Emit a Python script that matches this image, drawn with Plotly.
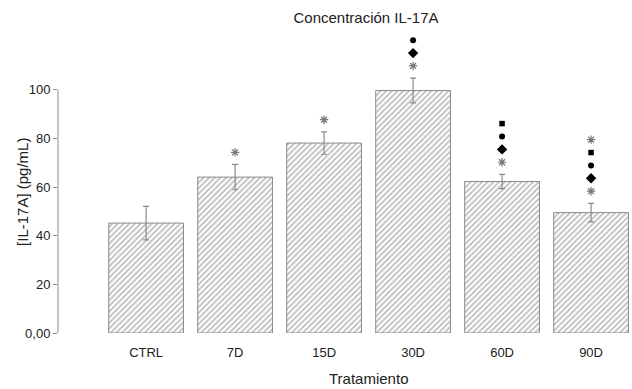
import plotly.graph_objects as go

categories = ["CTRL", "7D", "15D", "30D", "60D", "90D"]
means = [45.2, 64.1, 78.1, 99.7, 62.3, 49.5]
errors = [6.9, 5.2, 4.6, 5.1, 2.9, 3.8]
# significance marks, bottom to top
marks = [
    [],
    ["*"],
    ["*"],
    ["*", "diamond", "dot"],
    ["*", "diamond", "dot", "square"],
    ["*", "diamond", "dot", "square", "*"],
]
y_ticks = [0, 20, 40, 60, 80, 100]
y_tick_labels = ["0,00", "20", "40", "60", "80", "100"]

fig = go.Figure()
fig.add_trace(go.Bar(
    x=categories, y=means,
    width=0.84,
    marker=dict(color="white", line=dict(color="#8a8a8a", width=1),
                pattern=dict(shape="/", fgcolor="#7a7a7a", bgcolor="white", size=4, solidity=0.45)),
    error_y=dict(type="data", array=errors, color="#8a8a8a", thickness=1.2, width=3),
    showlegend=False,
))

style = {
    "*": dict(symbol="asterisk-open", size=7, color="#777", line=dict(color="#777", width=1.2)),
    "diamond": dict(symbol="diamond", size=8, color="black", line=dict(width=0)),
    "dot": dict(symbol="circle", size=6, color="black", line=dict(width=0)),
    "square": dict(symbol="square", size=5.5, color="black", line=dict(width=0)),
}
first_gap = 5.0
step = 5.3
for kind in style:
    xs, ys = [], []
    for c, m, e, mk in zip(categories, means, errors, marks):
        for i, k in enumerate(mk):
            if k == kind:
                xs.append(c)
                ys.append(m + e + first_gap + i * step)
    if xs:
        s = style[kind]
        fig.add_trace(go.Scatter(x=xs, y=ys, mode="markers", showlegend=False, hoverinfo="skip",
                                 marker=dict(symbol=s["symbol"], size=s["size"], color=s["color"], line=s["line"])))

# y axis line only spans the labelled range
fig.add_shape(type="line", xref="paper", yref="y", x0=0, x1=0, y0=0, y1=y_ticks[-1],
              line=dict(color="#8a8a8a", width=1))

fig.add_annotation(text="Tratamiento", xref="paper", yref="paper", x=0.5405, y=0, yshift=-45,
                   showarrow=False, font=dict(size=15, color="#222"), xanchor="center", yanchor="middle")
fig.add_annotation(text="[IL-17A] (pg/mL)", xref="paper", yref="paper", x=0, xshift=-35, y=0.464,
                   textangle=-90, showarrow=False, font=dict(size=15, color="#222"),
                   xanchor="center", yanchor="middle")

fig.update_layout(
    width=632, height=389,
    margin=dict(l=58, r=0, t=29, b=56),
    paper_bgcolor="white", plot_bgcolor="white",
    font=dict(family="Liberation Sans, Arial, sans-serif", color="#222", size=13),
    title=dict(text="Concentración IL-17A", x=366 / 632, xanchor="center", y=1 - 18 / 389, yanchor="middle",
               font=dict(size=15, color="#222")),
    bargap=0.16,
)
fig.update_xaxes(
    range=[-0.99, 5.46], showline=False, showgrid=False, zeroline=False, ticks="",
    ticklabelstandoff=10,
    tickfont=dict(size=13), automargin=False,
)
fig.update_yaxes(
    range=[0, 125], tickvals=y_ticks, ticktext=y_tick_labels,
    showline=False, ticks="outside", ticklen=4, tickcolor="#8a8a8a",
    showgrid=False, zeroline=False, automargin=False,
    tickfont=dict(size=13),
)
fig.write_html("out.html", config={"displayModeBar": False},
               post_script="document.body.style.margin='0';document.body.style.overflow='hidden';")
